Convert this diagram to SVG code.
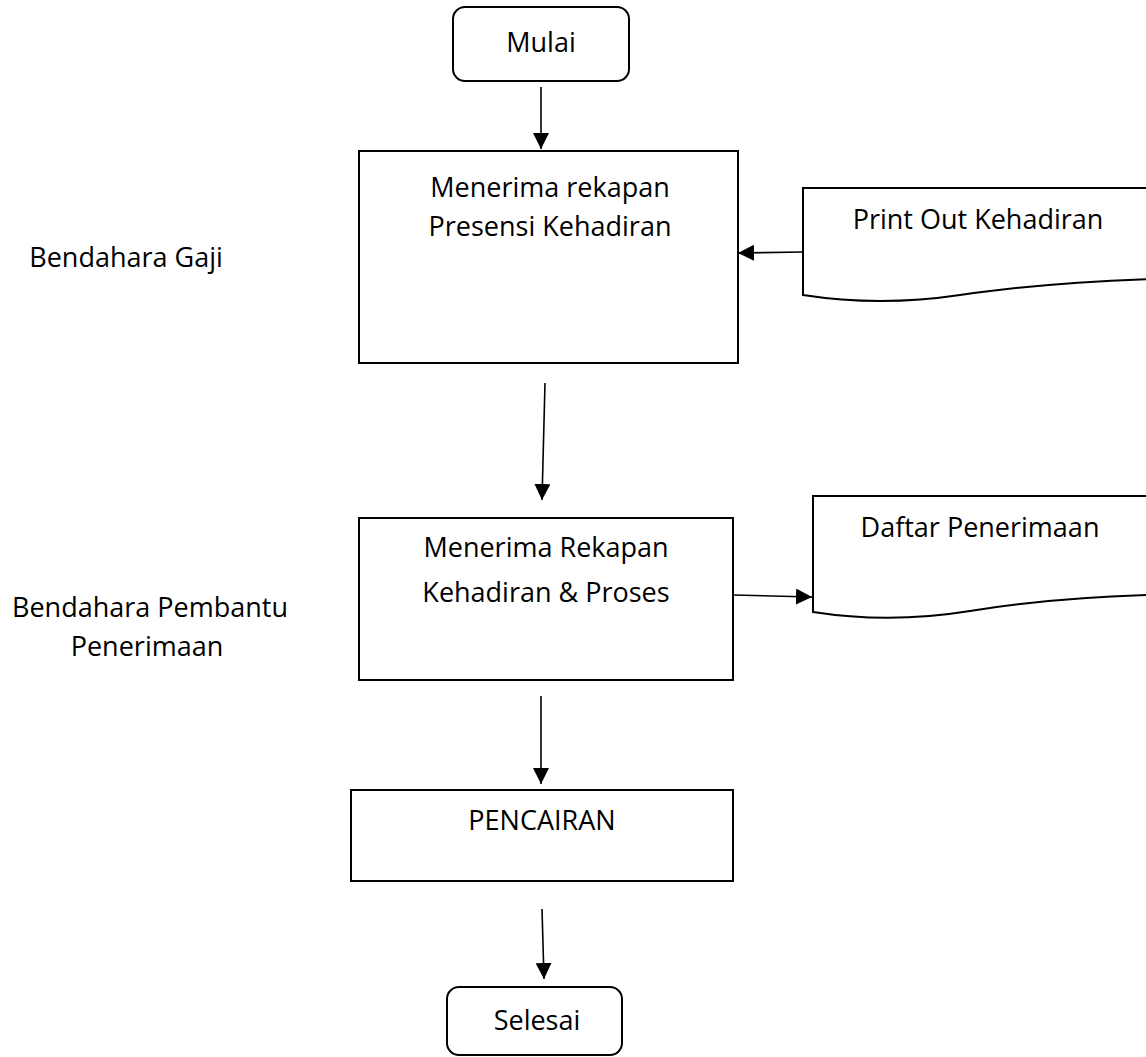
<svg xmlns="http://www.w3.org/2000/svg" width="1146" height="1057" viewBox="0 0 1146 1057">
  <style>
    .shape { fill: #ffffff; stroke: #000000; stroke-width: 2; }
    .label { font-family: "Open Sans", "Liberation Sans", sans-serif; font-size: 27px; fill: #000000; text-anchor: middle; }
    .flow { fill: none; stroke: #000000; stroke-width: 1.6; marker-end: url(#arrow); }
  </style>
  <defs>
    <marker id="arrow" markerUnits="userSpaceOnUse" markerWidth="16" markerHeight="16" viewBox="0 0 16 16" refX="16" refY="8" orient="auto">
      <path d="M0,0 L16,8 L0,16 Z" fill="#000000"/>
    </marker>
  </defs>

  <rect width="1146" height="1057" fill="#ffffff"/>

  <!-- lane labels -->
  <g id="lane-bendahara-gaji">
    <text class="label" x="126" y="267">Bendahara Gaji</text>
  </g>
  <g id="lane-bendahara-pembantu">
    <text class="label" x="150" y="617">Bendahara Pembantu</text>
    <text class="label" x="147" y="656">Penerimaan</text>
  </g>

  <!-- flow nodes -->
  <g id="mulai">
    <rect class="shape" x="453" y="7" width="176" height="74" rx="12" ry="12"/>
    <text class="label" x="541" y="52">Mulai</text>
  </g>

  <g id="menerima-rekapan-presensi">
    <rect class="shape" x="359" y="151" width="379" height="212"/>
    <text class="label" x="550" y="197">Menerima rekapan</text>
    <text class="label" x="550" y="236">Presensi Kehadiran</text>
  </g>

  <g id="print-out-kehadiran">
    <path class="shape" d="M803,295 Q880,307 960,295 T1150,279 V188 H803 Z"/>
    <text class="label" x="978" y="229">Print Out Kehadiran</text>
  </g>

  <g id="menerima-rekapan-proses">
    <rect class="shape" x="359" y="518" width="374" height="162"/>
    <text class="label" x="546" y="557">Menerima Rekapan</text>
    <text class="label" x="546" y="602">Kehadiran &amp; Proses</text>
  </g>

  <g id="daftar-penerimaan">
    <path class="shape" d="M813,612 Q890,624 970,611 T1150,595 V496 H813 Z"/>
    <text class="label" x="980" y="537">Daftar Penerimaan</text>
  </g>

  <g id="pencairan">
    <rect class="shape" x="351" y="790" width="382" height="91"/>
    <text class="label" x="542" y="830">PENCAIRAN</text>
  </g>

  <g id="selesai">
    <rect class="shape" x="447" y="987" width="175" height="68" rx="12" ry="12"/>
    <text class="label" x="537" y="1030">Selesai</text>
  </g>

  <!-- connectors -->
  <g id="connectors">
    <line class="flow" x1="541" y1="87" x2="541" y2="149"/>
    <line class="flow" x1="803" y1="252" x2="738" y2="253"/>
    <line class="flow" x1="545" y1="383" x2="542" y2="500"/>
    <line class="flow" x1="734" y1="595" x2="812" y2="597"/>
    <line class="flow" x1="541" y1="696" x2="541" y2="784"/>
    <line class="flow" x1="542" y1="909" x2="544" y2="979"/>
  </g>
</svg>
